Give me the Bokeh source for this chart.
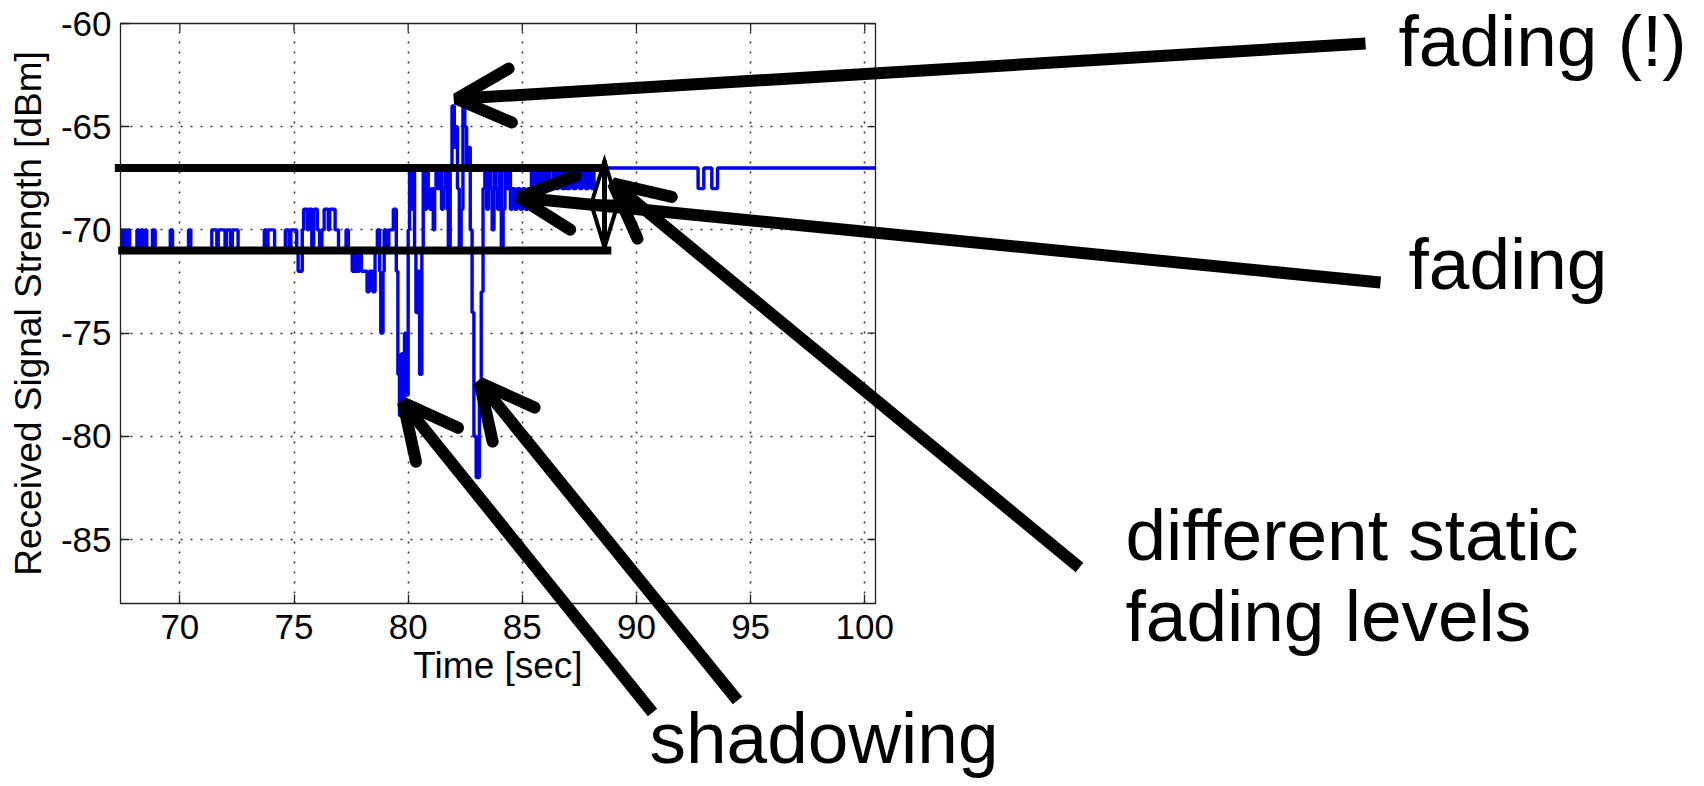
from bokeh.plotting import figure
from bokeh.models import Arrow, OpenHead, Label, FixedTicker, Range1d
from bokeh.embed import file_html
from bokeh.resources import INLINE

# Received signal strength trace: step changes (time [s], level [dBm])
step_time = [
    67.40, 67.48, 67.55, 67.63, 67.72, 67.80, 68.12, 68.22, 68.30, 68.40,
    68.48, 68.55, 68.80, 68.92, 69.58, 69.68, 70.38, 70.48, 71.40, 71.62,
    71.68, 71.98, 72.04, 72.22, 72.30, 72.55, 73.70, 73.80, 73.86, 74.15,
    74.62, 74.78, 74.86, 75.12, 75.18, 75.36, 75.42, 75.58, 75.64, 75.78,
    75.86, 76.02, 76.12, 76.22, 76.32, 76.50, 76.56, 76.80, 76.95, 77.28,
    77.38, 77.55, 77.68, 77.74, 77.86, 77.95, 78.20, 78.30, 78.45, 78.55,
    78.65, 78.75, 78.80, 78.90, 78.95, 79.05, 79.15, 79.25, 79.35, 79.48,
    79.55, 79.62, 79.70, 79.76, 79.84, 79.90,
    80.00, 80.06, 80.14, 80.20, 80.28, 80.34, 80.42, 80.50, 80.60, 80.66,
    80.74, 80.80, 80.88, 80.95, 81.02, 81.10, 81.16, 81.22, 81.30, 81.38,
    81.46, 81.54, 81.62, 81.70, 81.76, 81.84, 81.92, 82.02, 82.08, 82.16,
    82.24, 82.32, 82.40, 82.48, 82.56, 82.64, 82.72, 82.80, 82.88, 82.98,
    83.12, 83.20, 83.28, 83.36, 83.44, 83.52, 83.60, 83.68, 83.76, 83.84,
    83.92, 84.00, 84.08, 84.16, 84.24, 84.32, 84.40, 84.48, 84.56, 84.66,
    84.76, 84.90, 85.00, 85.12, 85.24, 85.40, 85.50, 85.62, 85.72, 85.86,
    85.96, 86.10, 86.20, 86.36, 86.46, 86.60, 86.72, 86.86, 86.96, 87.10,
    87.22, 87.36, 87.50, 87.62, 87.76, 87.90, 88.02, 88.14,
    92.70, 92.95, 93.30, 93.55,
]
step_rssi = [
    -70, -71, -70, -71, -70, -71, -70, -71, -70, -71,
    -70, -71, -70, -71, -70, -71, -70, -71, -70, -71,
    -70, -71, -70, -71, -70, -71, -70, -71, -70, -71,
    -70, -71, -70, -71, -72, -70, -69, -70, -69, -71,
    -69, -70, -71, -70, -69, -70, -69, -70, -71, -70,
    -71, -72, -71, -72, -71, -72, -73, -72, -73, -71,
    -70, -72, -75, -72, -70, -71, -70, -70, -69, -72,
    -77, -79, -76, -79, -75, -78,
    -70, -67, -69, -67, -71, -74, -72, -77, -71, -67,
    -69, -67, -68, -69, -68, -70, -68, -67, -68, -67,
    -69, -68, -67, -69, -71, -67, -64, -66, -65, -68,
    -71, -69, -64, -65, -67, -66, -70, -74, -80, -82,
    -78, -73, -68, -67, -69, -67, -68, -70, -67, -68,
    -69, -67, -71, -69, -67, -68, -67, -69, -68, -69,
    -68, -69, -68, -69, -68, -67, -68, -67, -68, -67,
    -68, -67, -68, -67, -68, -67, -68, -67, -68, -67,
    -68, -67, -68, -67, -68, -67, -68, -67,
    -68, -67, -68, -67,
]
t_end = 100.47

# Two static levels and the features the callouts point at
static_levels = [-67, -71]
level_span = [(67.15, 88.7), (67.3, 88.9)]
peak_fade = (82.11, -63.65)
fast_fade = (84.86, -68.43)
level_marker = (88.97, -67.75)
shadow_tips = [(79.78, -78.37), (83.13, -77.40)]
level_gap = (88.6, -66.65, -70.85)

x_ticks = [70, 75, 80, 85, 90, 95, 100]
y_ticks = [-85, -80, -75, -70, -65, -60]

X0, X1 = 67.4, t_end
Y0, Y1 = -88.1, -60.0

# Page size and frame placement (pixels)
W, H = 1704, 786
L, R, T, B = 120, 875, 23, 603
PIN = {"position": "absolute", "left": "0px", "top": "0px"}


def to_px(x, y):
    return (L + (x - X0) / (X1 - X0) * (R - L),
            T + (Y1 - y) / (Y1 - Y0) * (B - T))


FONT = "Liberation Sans"

# ---------------- chart ----------------
chart = figure(width=W, height=H, x_range=Range1d(X0, X1), y_range=Range1d(Y0, Y1),
               output_backend="svg", toolbar_location=None,
               min_border_left=L, min_border_right=W - R,
               min_border_top=T, min_border_bottom=H - B, styles=PIN)
chart.background_fill_color = "white"
chart.border_fill_color = "white"
chart.outline_line_color = "#222222"
chart.outline_line_width = 1.3

for ax in (chart.xaxis[0], chart.yaxis[0]):
    ax.major_label_text_font = FONT
    ax.major_label_text_font_size = "35px"
    ax.major_label_text_color = "black"
    ax.axis_label_text_font = FONT
    ax.axis_label_text_font_size = "37px"
    ax.axis_label_text_font_style = "normal"
    ax.axis_label_text_color = "black"
    ax.major_tick_in = 9
    ax.major_tick_out = 0
    ax.minor_tick_line_color = None
    ax.axis_line_color = "#222222"
    ax.major_tick_line_color = "#222222"
    ax.major_tick_line_width = 1.3

chart.xaxis[0].ticker = FixedTicker(ticks=x_ticks)
chart.yaxis[0].ticker = FixedTicker(ticks=y_ticks)
chart.xaxis[0].major_label_overrides = {v: str(v) for v in x_ticks}
chart.yaxis[0].major_label_overrides = {v: str(v) for v in y_ticks}
chart.xaxis[0].axis_label = "Time [sec]"
chart.yaxis[0].axis_label = "Received Signal Strength [dBm]"
chart.xaxis[0].major_label_standoff = 11
chart.yaxis[0].major_label_standoff = 9
chart.xaxis[0].axis_label_standoff = 3
chart.yaxis[0].axis_label_standoff = 9

chart.xgrid.ticker = FixedTicker(ticks=x_ticks)
chart.ygrid.ticker = FixedTicker(ticks=y_ticks)
for g in (chart.xgrid[0], chart.ygrid[0]):
    g.grid_line_color = "#333333"
    g.grid_line_dash = "2 8"
    g.grid_line_width = 1.6

# inward ticks on the top and right edges of the box
tick_dx = 8 * (X1 - X0) / (R - L)
tick_dy = 8 * (Y1 - Y0) / (B - T)
chart.segment(x0=x_ticks, y0=[Y1] * len(x_ticks), x1=x_ticks,
              y1=[Y1 - tick_dy] * len(x_ticks), line_color="#222222", line_width=1.3)
chart.segment(x0=[X1] * len(y_ticks), y0=y_ticks, x1=[X1 - tick_dx] * len(y_ticks),
              y1=y_ticks, line_color="#222222", line_width=1.3)

# signal trace
xs = step_time + [t_end]
ys = step_rssi + [step_rssi[-1]]
chart.step(xs, ys, mode="after", line_color="#0000f0", line_width=3.4)

# ---------------- callout layer (canvas pixels, y down) ----------------
notes = figure(width=W, height=H, x_range=Range1d(0, W), y_range=Range1d(H, 0),
               output_backend="svg", toolbar_location=None,
               x_axis_location=None, y_axis_location=None,
               min_border=0, styles=PIN)
notes.background_fill_color = None
notes.border_fill_color = None
notes.outline_line_color = None
notes.xgrid.visible = False
notes.ygrid.visible = False

# static level lines
for lvl, (xa, xb) in zip(static_levels, level_span):
    (ax0, ay), (bx0, _) = to_px(xa, lvl), to_px(xb, lvl)
    notes.segment(x0=[ax0], y0=[ay], x1=[bx0], y1=[ay], line_color="black",
                  line_width=8)

# double-headed marker between the two levels
gx, gtop = to_px(level_gap[0], level_gap[1])
_, gbot = to_px(level_gap[0], level_gap[2])
head_len, head_half = 46, 14
notes.patches(xs=[[gx, gx - head_half, gx + head_half], [gx, gx - head_half, gx + head_half]],
              ys=[[gtop, gtop + head_len, gtop + head_len], [gbot, gbot - head_len, gbot - head_len]],
              fill_color="white", line_color="black", line_width=4, line_join="miter")
notes.segment(x0=[gx], y0=[gtop], x1=[gx], y1=[gbot], line_color="black", line_width=5)


def callout(tail, tip):
    tx, ty = to_px(*tip)
    head = OpenHead(size=54, line_width=12, line_color="black", line_cap="round")
    notes.add_layout(Arrow(end=head, x_start=tail[0], y_start=tail[1], x_end=tx, y_end=ty,
                           line_width=12, line_color="black", line_cap="butt"))


callout((1365, 43), peak_fade)
callout((1380, 282), fast_fade)
callout((1079, 567), level_marker)
callout((652, 712), shadow_tips[0])
callout((737, 700), shadow_tips[1])


def note(x, y, text):
    notes.add_layout(Label(x=x, y=y, text=text, text_font=FONT, text_font_size="73px",
                           text_color="black", text_baseline="alphabetic",
                           text_align="left"))


note(1398, 40, "fading (!)")
note(1408, 263, "fading")
note(1125, 534, "different static")
note(1125, 615, "fading levels")
note(649, 737, "shadowing")

open("out.html", "w").write(file_html([chart, notes], INLINE))
